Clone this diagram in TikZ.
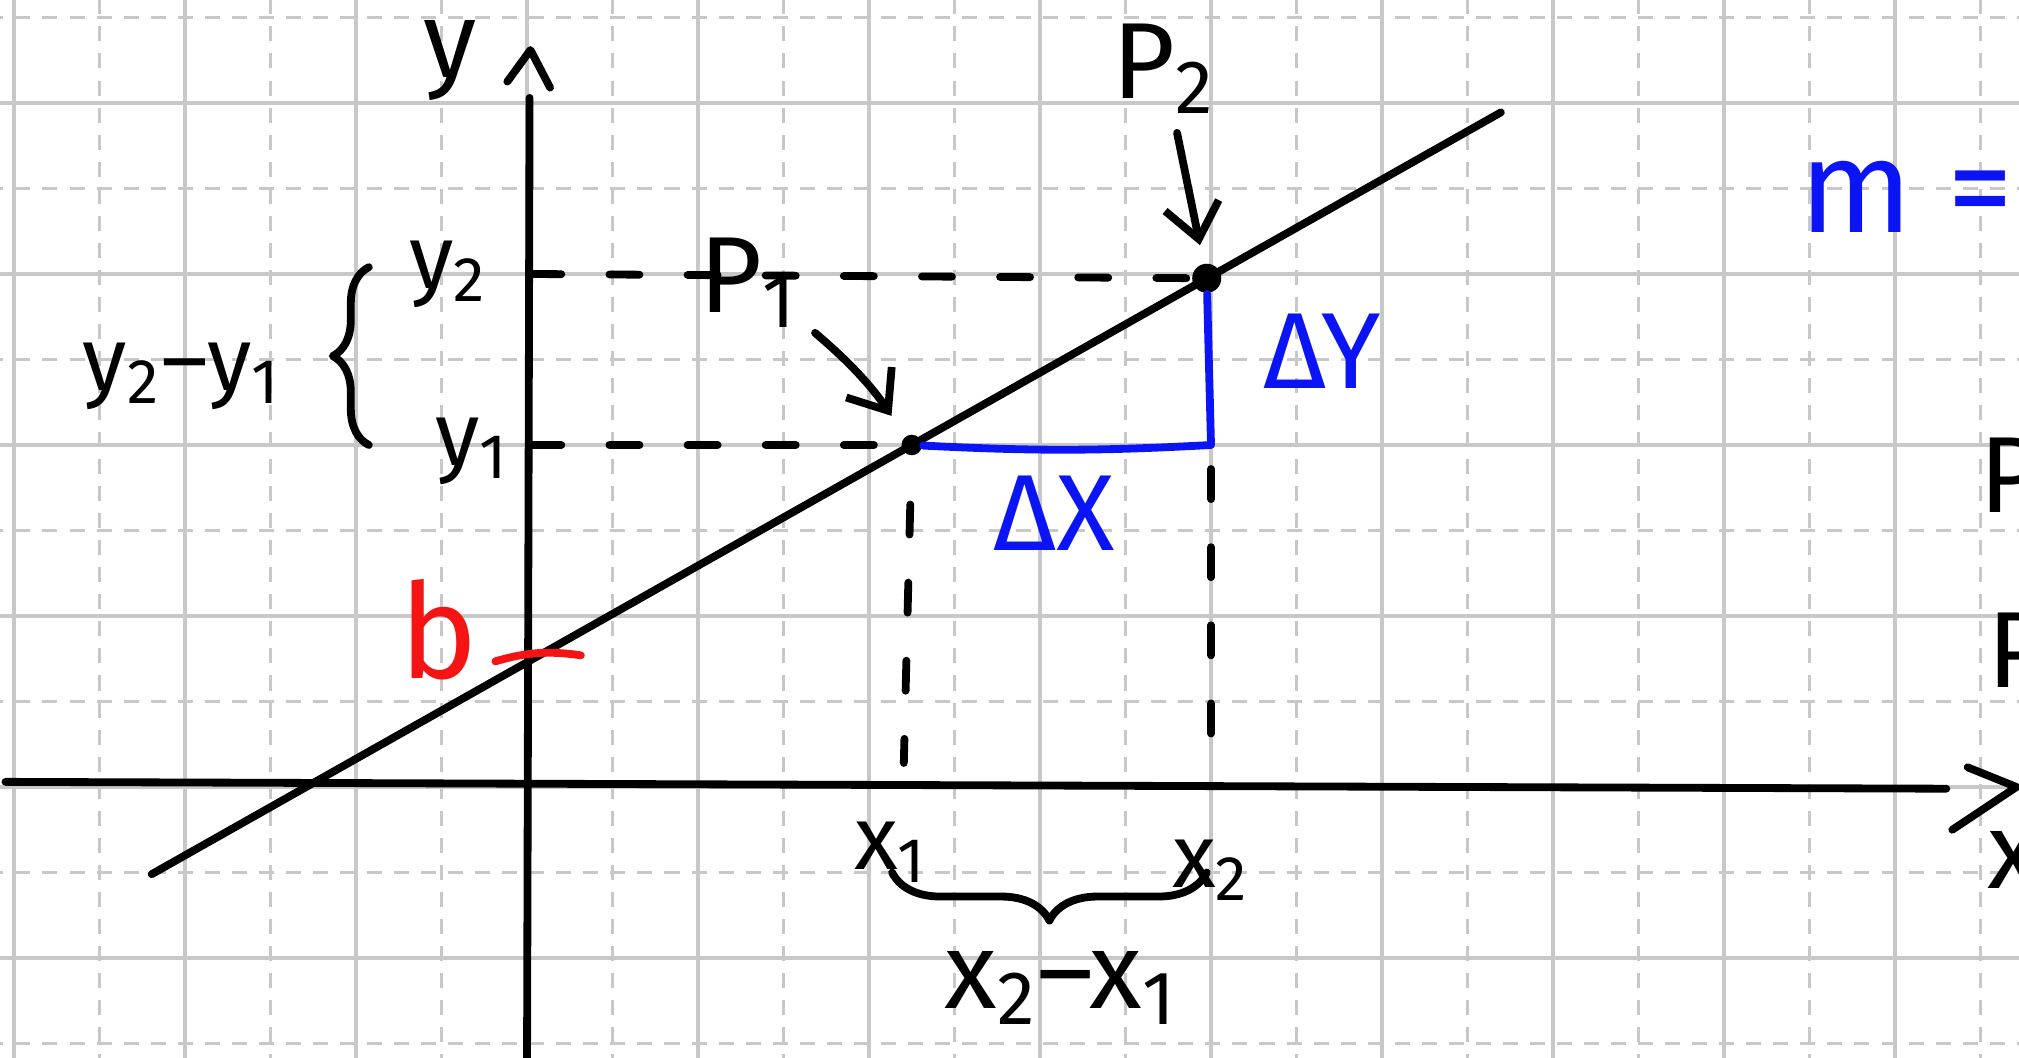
\documentclass[tikz,border=0pt]{standalone}
\usepackage{fontspec}
\setmainfont{Fira Sans}
\usetikzlibrary{calc}
\usetikzlibrary{positioning}
\usetikzlibrary{arrows.meta}
\usetikzlibrary{decorations.pathreplacing}
\definecolor{gridgray}{RGB}{200,200,200}
\definecolor{penblue}{RGB}{10,20,245}
\definecolor{penred}{RGB}{245,20,20}
\tikzstyle{gridsolid} = [draw=gridgray, line width=0.6pt]
\tikzstyle{griddash} = [draw=gridgray, line width=0.6pt, dash pattern=on 2.5pt off 2pt]
\tikzstyle{pen} = [line width=1.3pt, line cap=round, line join=round]
\tikzstyle{dashline} = [pen, dash pattern=on 5pt off 8pt]
\tikzstyle{arrow} = [pen, -{Straight Barb[length=2mm,width=3.2mm]}]
\tikzstyle{brace} = [pen, decorate, decoration={brace, amplitude=6pt}]
\tikzstyle{dot} = [circle, fill=black, inner sep=0pt]
\tikzstyle{hand} = [inner sep=1pt, font=\fontsize{18}{20}\selectfont]
\tikzstyle{handsmall} = [inner sep=1pt, font=\fontsize{15}{18}\selectfont]
\tikzstyle{handbig} = [inner sep=1pt, font=\fontsize{22}{26}\selectfont]

\begin{document}
\begin{tikzpicture}[x=0.5cm, y=0.5cm, node distance=0.45cm]
\useasboundingbox (-6.164,-3.158) rectangle (17.45,9.205);
\clip (-6.164,-3.158) rectangle (17.45,9.205);

% grid paper
\foreach \k in {-6,-4,...,16} \draw[gridsolid] (\k,-3.3) -- (\k,9.3);
\foreach \k in {-5,-3,...,17} \draw[griddash] (\k,-3.3) -- (\k,9.3);
\foreach \k in {-2,0,...,8} \draw[gridsolid] (-6.3,\k) -- (17.5,\k);
\foreach \k in {-3,-1,...,9} \draw[griddash] (-6.3,\k) -- (17.5,\k);

% axes
\coordinate (xstart) at (-6.1,0.06);
\coordinate (xend) at (16.6,-0.02);
\coordinate (xtip) at (17.42,0);
\coordinate (ystart) at (0,-3.3);
\coordinate (yend) at (0.03,8.06);
\coordinate (ytip) at (0.04,8.62);
\draw[pen] (xstart) -- (xend);
\draw[pen] ($(xtip)+(-0.57,0.23)$) -- (xtip) -- ($(xtip)+(-0.75,-0.5)$);
\draw[pen] (ystart) -- (yend);
\draw[pen] ($(ytip)+(-0.27,-0.37)$) -- (ytip) -- ($(ytip)+(0.23,-0.44)$);
\node (ylbl) [hand] at (-0.9,8.5) {y};
\node (xlbl) [hand, anchor=west] at (17.0,-0.85) {x};

% line through P1 and P2
\coordinate (lstart) at (-4.39,-1.02);
\coordinate (lend) at (11.39,7.89);
\draw[pen] (lstart) -- (lend);
\node (P1) [dot, minimum size=0.12cm] at (4.5,4.0) {};
\node (P2) [dot, minimum size=0.17cm] at (7.95,5.95) {};
\node (p1lbl) [hand] at (2.6,5.9) {P\textsubscript{1}};
\node (p2lbl) [hand] at (7.45,8.4) {P\textsubscript{2}};
\draw[arrow, shorten <=2pt, shorten >=4pt] (p1lbl) to[bend left=8] (P1);
\draw[arrow, shorten <=2pt, shorten >=3pt] (p2lbl) -- (P2);

% helper lines
\coordinate (y1) at (0.05,4.0);
\coordinate (y2) at (0.05,6.0);
\coordinate (x1) at (4.4,0);
\coordinate (x2) at (8.0,0);
\coordinate (corner) at (8.0,4.0);
\draw[dashline] (y2) -- (P2);
\draw[dashline] (y1) -- (P1);
\draw[dashline, shorten <=8pt, shorten >=4pt] (P1) -- (x1);
\draw[dashline, shorten <=4pt, shorten >=3pt] (corner) -- (x2);
\node (y2lbl) [handsmall, left of=y2, xshift=-1pt] {y\textsubscript{2}};
\node (y1lbl) [handsmall, left of=y1, xshift=3pt, yshift=-1pt] {y\textsubscript{1}};
\node (x1lbl) [handsmall, below of=x1, yshift=2pt, xshift=-2pt] {x\textsubscript{1}};
\node (x2lbl) [handsmall, below of=x2, yshift=-1pt] {x\textsubscript{2}};

% slope triangle
\draw[pen, penblue] (P1) to[bend right=3] (corner) -- (P2);
\node (dxlbl) [hand, penblue] at (6.17,3.2) {ΔX};
\node (dylbl) [hand, penblue] at (9.3,5.1) {ΔY};

% differences
\coordinate (bx1) at (4.27,-1.0);
\coordinate (bx2) at (7.95,-1.0);
\coordinate (by1) at (-1.85,4.0);
\coordinate (by2) at (-1.85,6.08);
\draw[brace, decoration={amplitude=8pt}] (bx2) -- (bx1);
\draw[brace] (by1) -- (by2);
\node (xdifflbl) [hand] at (6.25,-2.35) {x\textsubscript{2}–x\textsubscript{1}};
\node (ydifflbl) [handsmall] at (-4.03,4.8) {y\textsubscript{2}–y\textsubscript{1}};

% intercept
\node (blbl) [handbig, penred] at (-1.03,1.84) {b};
\coordinate (bt1) at (-0.37,1.47);
\coordinate (bt2) at (0.63,1.54);
\draw[pen, penred] (bt1) to[bend left=12] (bt2);

% right margin
\node (mlbl) [handbig, penblue, anchor=west] at (14.8,6.9) {m =};
\node (pa) [hand, anchor=west] at (16.9,3.65) {P};
\node (pb) [hand, anchor=west] at (17.0,1.6) {P};

\end{tikzpicture}
\end{document}
